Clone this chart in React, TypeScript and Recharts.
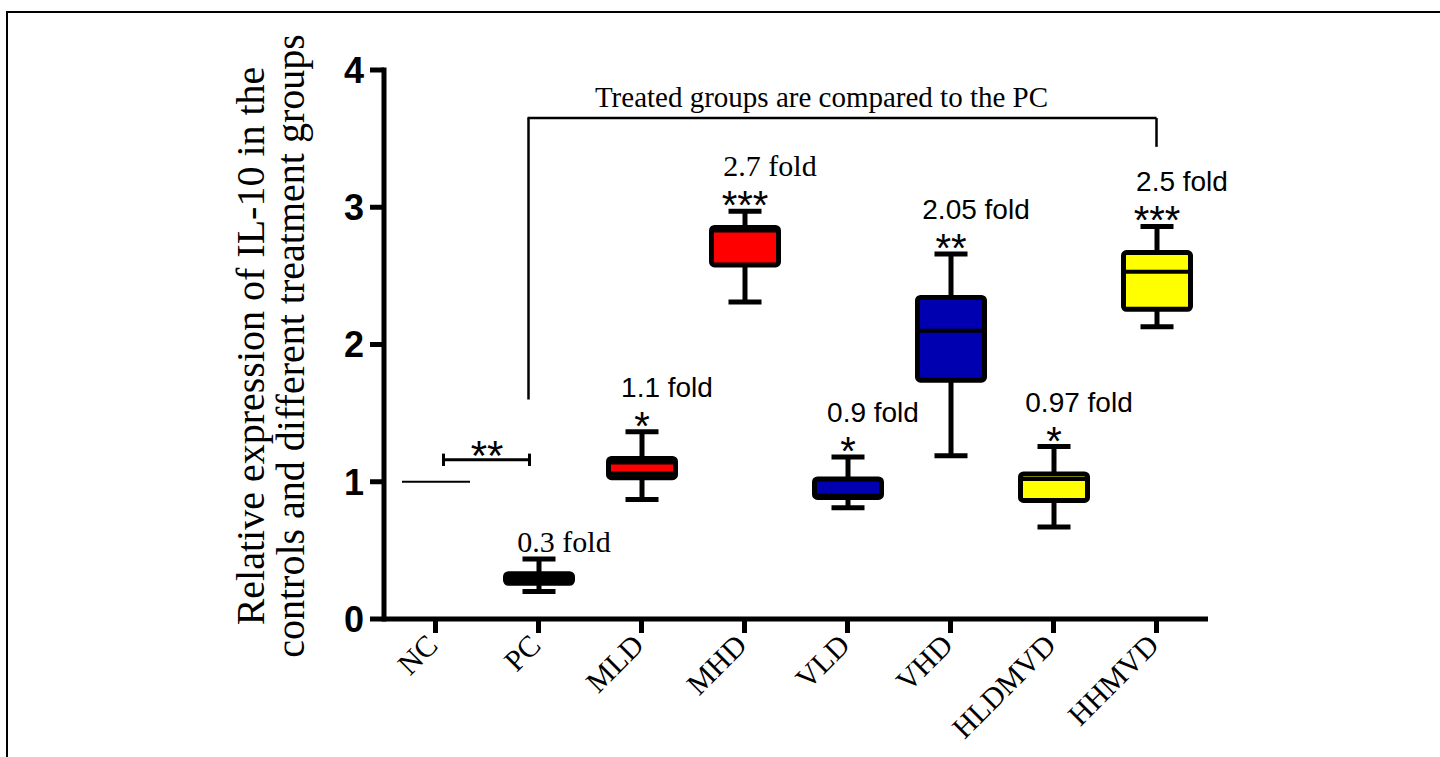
import { Bar, ComposedChart, ReferenceLine, XAxis, YAxis } from 'recharts'

const groups = ['NC', 'PC', 'MLD', 'MHD', 'VLD', 'VHD', 'HLDMVD', 'HHMVD']
const whiskerLow = [1, 0.2, 0.87, 2.31, 0.81, 1.19, 0.67, 2.13]
const quart1 = [1, 0.26, 1.03, 2.58, 0.886, 1.74, 0.864, 2.256]
const medians = [1, 0.3, 1.14, 2.83, 0.9, 2.1, 1.02, 2.53]
const secondLine = [null, null, 1.06, null, null, null, null, null]
const quart3 = [1, 0.33, 1.17, 2.853, 1.02, 2.343, 1.057, 2.67]
const whiskerHigh = [1, 0.437, 1.365, 2.97, 1.18, 2.66, 1.256, 2.86]
const foldLabels = ['', '0.3 fold', '1.1 fold', '2.7 fold', '0.9 fold', '2.05 fold', '0.97 fold', '2.5 fold']
const stars = ['', '', '*', '***', '*', '**', '*', '***']
const yTicks = [0, 1, 2, 3, 4]

// bracket heights (y values)
const ncPcBracket = 1.16
const bracketTop = 3.65
const bracketPcBottom = 1.6
const bracketRightBottom = 3.44

const boxColors = ['#000', '#000', '#ff0000', '#ff0000', '#0000b0', '#0000b0', '#ffff00', '#ffff00']
const serifFolds = [false, true, false, true, false, false, false, false]

const SANS = '"Liberation Sans", Arial, sans-serif'
const SERIF = '"Liberation Serif", "Times New Roman", serif'

const data = groups.map((name, i) => ({
  name,
  lo: whiskerLow[i],
  q1: quart1[i],
  med: medians[i],
  med2: secondLine[i],
  q3: quart3[i],
  hi: whiskerHigh[i],
}))

function BoxShape(props: any) {
  const { x, y, width, height, index, payload } = props
  const base = y + height
  const k = height / payload.hi
  const py = (v: number) => base - v * k
  const cx = x + width / 2
  const boxW = 67
  const capW = 33
  if (payload.lo === payload.hi) {
    return <line x1={cx - 34} x2={cx + 34} y1={py(payload.med)} y2={py(payload.med)} stroke="#000" strokeWidth={2} />
  }
  const top = py(payload.hi)
  const star = stars[index]
  const fold = foldLabels[index]
  return (
    <g>
      <line x1={cx} x2={cx} y1={py(payload.hi)} y2={py(payload.lo)} stroke="#000" strokeWidth={5} />
      <line x1={cx - capW / 2} x2={cx + capW / 2} y1={py(payload.hi)} y2={py(payload.hi)} stroke="#000" strokeWidth={5} />
      <line x1={cx - capW / 2} x2={cx + capW / 2} y1={py(payload.lo)} y2={py(payload.lo)} stroke="#000" strokeWidth={5} />
      <rect
        x={cx - boxW / 2}
        y={py(payload.q3)}
        width={boxW}
        height={py(payload.q1) - py(payload.q3)}
        rx={3}
        fill={boxColors[index]}
        stroke="#000"
        strokeWidth={5}
      />
      <line x1={cx - boxW / 2} x2={cx + boxW / 2} y1={py(payload.med)} y2={py(payload.med)} stroke="#000" strokeWidth={4} />
      {payload.med2 != null && (
        <line x1={cx - boxW / 2} x2={cx + boxW / 2} y1={py(payload.med2)} y2={py(payload.med2)} stroke="#000" strokeWidth={4} />
      )}
      {star && (
        <text x={cx} y={top + 8} textAnchor="middle" fontFamily={SANS} fontSize={40} fill="#000">
          {star}
        </text>
      )}
      {fold && (
        <text
          x={cx + 25}
          y={star ? top - 35 : top - 7}
          textAnchor="middle"
          fontFamily={serifFolds[index] ? SERIF : SANS}
          fontSize={serifFolds[index] ? 30 : 28}
          fill="#000"
        >
          {fold}
        </text>
      )}
    </g>
  )
}

function CatTick(props: any) {
  const { x, y, payload } = props
  return (
    <g transform={`translate(${x + 4},${y + 12})`}>
      <text textAnchor="end" transform="rotate(-45)" fontFamily={SERIF} fontSize={30} fill="#000">
        {payload.value}
      </text>
    </g>
  )
}

function YTitle(props: any) {
  const vb = props.viewBox
  const cy = 346
  const x1 = vb.x - 40
  const x2 = vb.x
  return (
    <g>
      <text transform={`translate(${x1},${cy}) rotate(-90)`} textAnchor="middle" fontFamily={SERIF} fontSize={40} fill="#000">
        Relative expression of IL-10 in the
      </text>
      <text transform={`translate(${x2},${cy}) rotate(-90)`} textAnchor="middle" fontFamily={SERIF} fontSize={40} fill="#000">
        controls and different treatment groups
      </text>
    </g>
  )
}

// bracket segment drawn by the ReferenceLine, nudged sideways by a few pixels
const shifted = (dx1: number, dx2: number, w: number) => (p: any) =>
  <line x1={p.x1 + dx1} y1={p.y1} x2={p.x2 + dx2} y2={p.y2} stroke="#000" strokeWidth={w} />

export default function App() {
  return (
    <div style={{ position: 'absolute', left: 0, top: 0, width: 1440, height: 757, background: '#fff', overflow: 'hidden' }}>
      <div
        style={{
          position: 'absolute',
          left: 6,
          top: 11,
          width: 1440,
          height: 760,
          borderTop: '2px solid #000',
          borderLeft: '2px solid #000',
        }}
      />
      <div style={{ position: 'absolute', left: 0, top: 0 }}>
        <ComposedChart width={1440} height={757} data={data} margin={{ top: 70, right: 232, bottom: 38, left: 304 }}>
          <XAxis
            dataKey="name"
            interval={0}
            height={100}
            axisLine={{ stroke: '#000', strokeWidth: 5 }}
            tickLine={{ stroke: '#000', strokeWidth: 5 }}
            tickSize={14}
            tick={<CatTick />}
          />
          <YAxis
            domain={[0, 4]}
            ticks={yTicks}
            width={80}
            axisLine={{ stroke: '#000', strokeWidth: 5, strokeLinecap: 'square' }}
            tickLine={{ stroke: '#000', strokeWidth: 5 }}
            tickSize={14}
            tick={{ fill: '#000', fontSize: 36, fontWeight: 700, fontFamily: SANS, dx: -4 }}
            label={<YTitle />}
          />
          <Bar dataKey="hi" barSize={70} shape={<BoxShape />} isAnimationActive={false} />
          <ReferenceLine
            segment={[{ x: 'NC', y: ncPcBracket }, { x: 'PC', y: ncPcBracket }]}
            shape={shifted(8, -9, 3)}
            label={(p: any) => (
              <text
                x={p.viewBox.x + p.viewBox.width / 2}
                y={p.viewBox.y + 10}
                textAnchor="middle"
                fontFamily={SANS}
                fontSize={42}
                fill="#000"
              >
                **
              </text>
            )}
          />
          <ReferenceLine segment={[{ x: 'NC', y: ncPcBracket - 0.045 }, { x: 'NC', y: ncPcBracket + 0.045 }]} shape={shifted(8, 8, 3)} />
          <ReferenceLine segment={[{ x: 'PC', y: ncPcBracket - 0.045 }, { x: 'PC', y: ncPcBracket + 0.045 }]} shape={shifted(-9, -9, 3)} />
          <ReferenceLine segment={[{ x: 'PC', y: bracketPcBottom }, { x: 'PC', y: bracketTop }]} shape={shifted(-10, -10, 2.5)} />
          <ReferenceLine
            segment={[{ x: 'PC', y: bracketTop }, { x: 'HHMVD', y: bracketTop }]}
            shape={shifted(-11, 0, 2.5)}
            label={(p: any) => (
              <text
                x={p.viewBox.x + p.viewBox.width / 2 - 26}
                y={p.viewBox.y - 11}
                textAnchor="middle"
                fontFamily={SERIF}
                fontSize={29}
                fill="#000"
              >
                Treated groups are compared to the PC
              </text>
            )}
          />
          <ReferenceLine segment={[{ x: 'HHMVD', y: bracketRightBottom }, { x: 'HHMVD', y: bracketTop }]} shape={shifted(0, 0, 2.5)} />
        </ComposedChart>
      </div>
    </div>
  )
}
